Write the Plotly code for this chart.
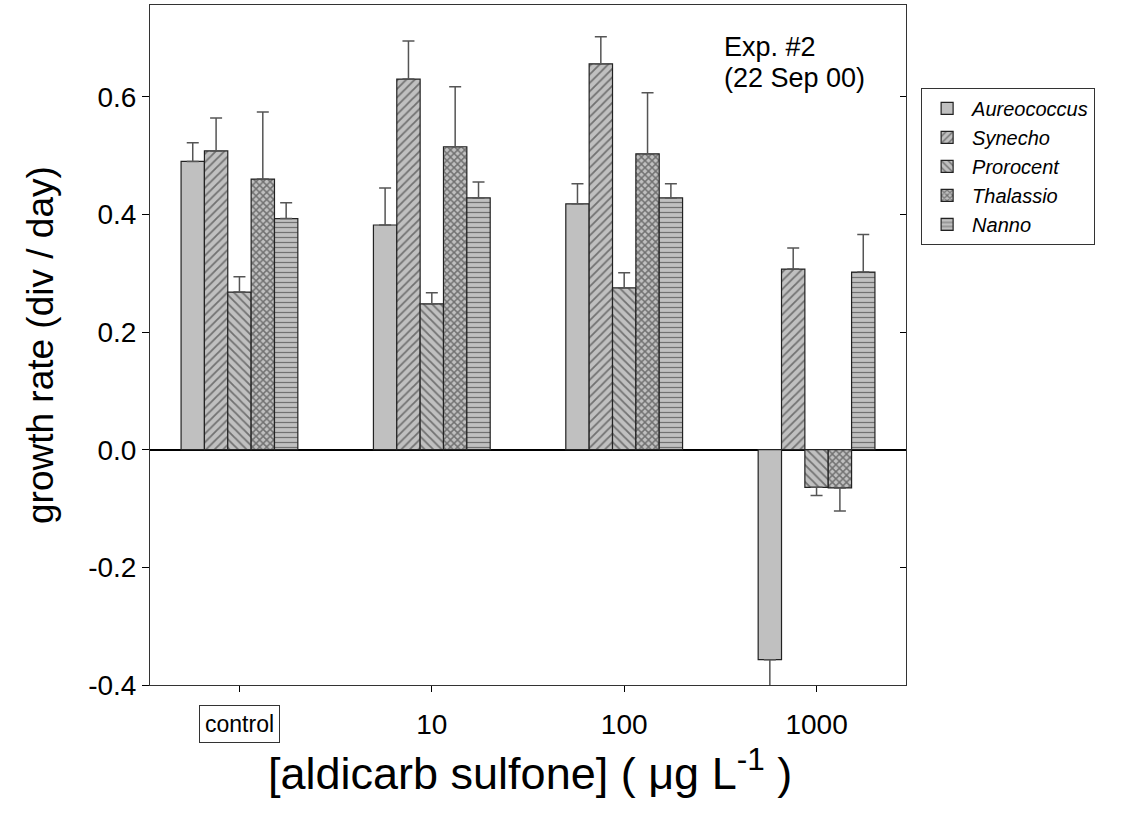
import plotly.graph_objects as go

categories = ["control", "10", "100", "1000"]
tick_labels = ["", "10", "100", "1000"]
species = ["Aureococcus", "Synecho", "Prorocent", "Thalassio", "Nanno"]

aureococcus = [0.490, 0.382, 0.418, -0.357]
aureococcus_err = [0.032, 0.063, 0.034, 0.050]
synecho = [0.508, 0.630, 0.656, 0.307]
synecho_err = [0.056, 0.065, 0.046, 0.036]
prorocent = [0.268, 0.248, 0.275, -0.064]
prorocent_err = [0.026, 0.019, 0.026, 0.014]
thalassio = [0.460, 0.515, 0.503, -0.065]
thalassio_err = [0.114, 0.102, 0.104, 0.039]
nanno = [0.393, 0.428, 0.428, 0.302]
nanno_err = [0.027, 0.027, 0.024, 0.064]

values = [aureococcus, synecho, prorocent, thalassio, nanno]
errors = [aureococcus_err, synecho_err, prorocent_err, thalassio_err, nanno_err]
patterns = ["", "/", "\\", "x", "-"]
pattern_sizes = [6, 6, 6, 5, 5]
pattern_solidity = [0.3, 0.3, 0.3, 0.5, 0.25]

fig = go.Figure()
for name, vals, errs, pat, ps, sol in zip(species, values, errors, patterns,
                                          pattern_sizes, pattern_solidity):
    plus = [e if v >= 0 else 0 for v, e in zip(vals, errs)]
    minus = [e if v < 0 else 0 for v, e in zip(vals, errs)]
    fig.add_trace(go.Bar(
        x=categories, y=vals, name=name,
        marker=dict(color="#c0c0c0",
                    line=dict(color="#222222", width=1.2),
                    pattern=dict(shape=pat, fgcolor="#222222", bgcolor="#c0c0c0",
                                 size=ps, solidity=sol)),
        error_y=dict(type="data", symmetric=False, array=plus, arrayminus=minus,
                     color="#555555", thickness=1.5, width=6),
    ))

# dummy trace for right-side inside ticks
fig.add_trace(go.Scatter(x=[None], y=[None], yaxis="y2", showlegend=False, hoverinfo="skip"))

fig.update_layout(
    width=1135, height=814,
    margin=dict(l=150, r=229, t=5, b=129),
    paper_bgcolor="white", plot_bgcolor="white",
    barmode="group", bargap=0.393, bargroupgap=0,
    font=dict(family="Liberation Sans, Arial, sans-serif", color="black"),
    showlegend=True,
    legend=dict(x=1.02, y=0.878, xanchor="left", yanchor="top",
                bordercolor="#333333", borderwidth=1,
                font=dict(size=20, style="italic"),
                tracegroupgap=0, itemwidth=40),
    xaxis=dict(type="category", range=[-0.465, 3.465],
               tickvals=categories, ticktext=tick_labels,
               ticks="outside", ticklen=6, tickcolor="black",
               ticklabelstandoff=8,
               tickfont=dict(size=28), showline=True, linecolor="#333333",
               linewidth=1, mirror=True, showgrid=False),
    yaxis=dict(range=[-0.4, 0.756], tickvals=[-0.4, -0.2, 0.0, 0.2, 0.4, 0.6],
               ticktext=["-0.4", "-0.2", "0.0", "0.2", "0.4", "0.6"],
               ticks="outside", ticklen=7, tickcolor="black",
               tickfont=dict(size=28), showline=True, linecolor="#333333",
               linewidth=1, mirror=True, showgrid=False,
               zeroline=True, zerolinecolor="black", zerolinewidth=1.5),
    yaxis2=dict(overlaying="y", side="right", matches="y", range=[-0.4, 0.756],
                tickvals=[-0.4, -0.2, 0.0, 0.2, 0.4, 0.6], ticks="inside", ticklen=6,
                tickcolor="black", showticklabels=False, showgrid=False,
                zeroline=False, showline=False),
)

# axis titles
fig.add_annotation(x=-110 / 756, y=0.5, xref="paper", yref="paper", xanchor="center",
                   yanchor="middle", text="growth rate (div / day)", textangle=-90,
                   showarrow=False, font=dict(size=37))
fig.add_annotation(x=(530 - 150) / 756, y=-(770 - 685) / 680, xref="paper", yref="paper",
                   xanchor="center", yanchor="middle",
                   text="[aldicarb sulfone] ( μg L<sup>-1</sup> )",
                   showarrow=False, font=dict(size=45))

fig.add_annotation(x=0, y=-0.4, xref="x", yref="y", yshift=-39,
                   text="control", showarrow=False, font=dict(size=23),
                   bordercolor="#333333", borderwidth=1, borderpad=5, bgcolor="white")
fig.add_annotation(x=(722 - 150) / 756, y=(685 - 47) / 680, xref="paper", yref="paper",
                   xanchor="left", yanchor="middle", align="left",
                   text="Exp. #2", showarrow=False, font=dict(size=27))
fig.add_annotation(x=(722 - 150) / 756, y=(685 - 78) / 680, xref="paper", yref="paper",
                   xanchor="left", yanchor="middle", align="left",
                   text="(22 Sep 00)", showarrow=False, font=dict(size=27))

fig.write_html("out.html")
